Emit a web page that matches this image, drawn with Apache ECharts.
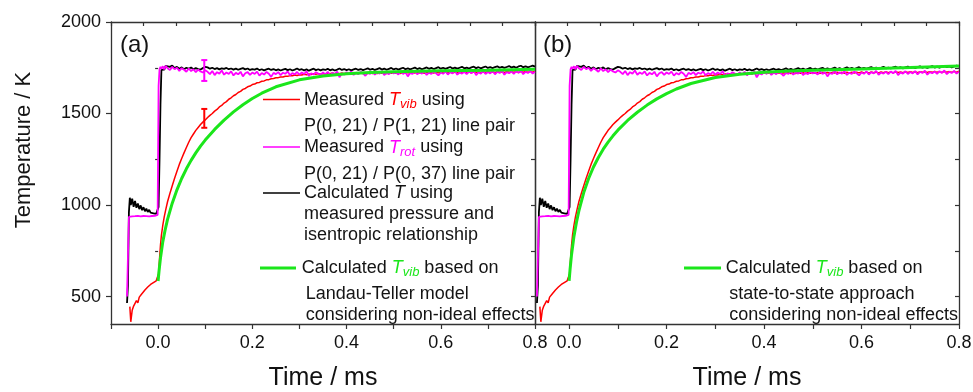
<!DOCTYPE html>
<html><head><meta charset="utf-8">
<script src="https://cdn.jsdelivr.net/npm/echarts@6/dist/echarts.min.js"></script>
<style>html,body{margin:0;padding:0;background:#fff}#c{width:973px;height:392px}</style>
</head><body><div id="c"></div>
<script>
// ---- data ----
const tMeas = [-0.066,-0.064,-0.062,-0.060,-0.058,-0.055,-0.052,-0.049,-0.046,-0.043,-0.040,-0.037,-0.034,-0.031,-0.028,-0.025,-0.022,-0.019,-0.016,-0.013,-0.010,-0.007,-0.004,-0.001,
0.001,0.003,0.005,0.007,0.010,0.013,0.016,0.020,0.025,0.030,0.035,0.040,0.045,0.050,0.055,0.060,0.065,0.070,0.075,0.080,0.085,0.090,0.095,0.100,
0.105,0.110,0.115,0.120,0.125,0.130,0.135,0.140,0.145,0.150,
0.155,0.160,0.165,0.170,0.175,0.180,0.185,0.190,0.195,0.200,
0.205,0.210,0.215,0.220,0.225,0.230,0.235,0.240,0.245,0.250,
0.255,0.260,0.265,0.270,0.275,0.280,0.285,0.290,0.295,0.300,
0.305,0.310,0.315,0.320,0.325,0.330,0.335,0.340,0.345,0.350,
0.355,0.360,0.365,0.370,0.375,0.380,0.385,0.390,0.395,0.400,
0.405,0.410,0.415,0.420,0.425,0.430,0.435,0.440,0.445,0.450,
0.455,0.460,0.465,0.470,0.475,0.480,0.485,0.490,0.495,0.500,
0.505,0.510,0.515,0.520,0.525,0.530,0.535,0.540,0.545,0.550,
0.555,0.560,0.565,0.570,0.575,0.580,0.585,0.590,0.595,0.600,
0.605,0.610,0.615,0.620,0.625,0.630,0.635,0.640,0.645,0.650,
0.655,0.660,0.665,0.670,0.675,0.680,0.685,0.690,0.695,0.700,
0.705,0.710,0.715,0.720,0.725,0.730,0.735,0.740,0.745,0.750,
0.755,0.760,0.765,0.770,0.775,0.780,0.785,0.790,0.795,0.800];

const tCalc = [465,560,960,1040,1000,1035,990,1022,985,1008,978,998,972,988,966,980,962,974,958,968,955,964,952,957,
990,1250,1550,1738,1745,1740,1760,1770,1755,1762,1748,1755,1745,1752,1742,1750,1744,1752,1741,1748,1743,1740,1748,1755,
1752,1745,1750,1743,1748,1741,1747,1744,1749,1742,
1746,1740,1745,1739,1744,1748,1741,1746,1738,1743,
1740,1746,1737,1742,1736,1741,1745,1738,1743,1736,
1741,1735,1740,1744,1737,1742,1735,1740,1746,1738,
1742,1736,1741,1734,1740,1745,1737,1742,1736,1741,
1738,1744,1736,1741,1735,1740,1746,1738,1743,1737,
1742,1736,1741,1745,1738,1743,1737,1742,1747,1739,
1744,1738,1743,1748,1740,1745,1739,1744,1749,1741,
1746,1740,1745,1750,1742,1747,1741,1746,1751,1743,
1748,1742,1747,1752,1744,1749,1743,1748,1753,1745,
1750,1744,1749,1754,1746,1751,1745,1750,1755,1747,
1751,1746,1752,1756,1748,1753,1747,1752,1757,1749,
1753,1748,1754,1758,1750,1755,1749,1754,1759,1751,
1756,1750,1757,1761,1753,1758,1752,1757,1762,1756];

const tRot = [500,720,935,940,942,938,936,939,937,941,935,938,936,940,937,939,941,938,942,940,943,941,944,946,
1650,1742,1755,1744,1758,1741,1760,1747,1738,1755,1742,1750,1733,1748,1739,1728,1746,1732,1742,1726,1740,1730,1724,1736,
1728,1715,1732,1710,1726,1718,1735,1712,1724,1716,
1730,1708,1722,1714,1728,1703,1720,1726,1711,1724,
1716,1729,1707,1721,1713,1727,1717,1700,1722,1715,
1726,1710,1723,1717,1730,1709,1721,1714,1727,1712,
1724,1716,1731,1705,1720,1713,1726,1718,1711,1725,
1714,1728,1709,1722,1716,1729,1698,1720,1713,1726,
1717,1730,1711,1724,1715,1728,1719,1706,1723,1716,
1729,1712,1725,1718,1731,1710,1722,1715,1727,1719,
1724,1713,1730,1716,1726,1703,1721,1717,1732,1714,
1725,1718,1731,1711,1723,1716,1729,1720,1708,1724,
1717,1730,1713,1726,1719,1733,1712,1724,1718,1728,
1715,1729,1720,1733,1710,1725,1718,1731,1716,1727,
1719,1732,1714,1728,1721,1734,1712,1726,1720,1730,
1717,1731,1722,1735,1715,1728,1721,1733,1718,1729];

const tVib = [null,null,null,445,362,425,448,438,478,466,497,488,517,509,536,528,552,546,566,559,576,571,586,592,
625,705,780,835,890,935,972,1018,1063,1105,1146,1184,1222,1254,1285,1314,1343,1368,1388,1408,1424,1440,1453,1465,
1478,1490,1500,1513,1522,1536,1544,1557,1565,1578,
1586,1597,1604,1615,1621,1632,1637,1646,1650,1658,
1661,1668,1670,1676,1678,1684,1685,1690,1691,1695,
1696,1700,1700,1704,1703,1707,1706,1710,1708,1712,
1710,1714,1712,1716,1713,1717,1714,1718,1715,1719,
1716,1720,1717,1721,1716,1722,1718,1721,1717,1722,
1718,1722,1717,1723,1719,1722,1718,1723,1719,1724,
1719,1723,1718,1724,1720,1723,1719,1724,1720,1725,
1720,1724,1719,1725,1721,1724,1720,1725,1721,1726,
1721,1725,1720,1726,1722,1725,1721,1726,1722,1727,
1722,1726,1721,1727,1723,1726,1722,1727,1723,1728,
1723,1727,1722,1728,1724,1727,1723,1728,1724,1729,
1724,1728,1723,1729,1725,1728,1724,1729,1725,1730,
1725,1729,1724,1730,1726,1729,1725,1730,1726,1731];

const tModel = [0,0.002,0.005,0.01,0.015,0.02,0.03,0.04,0.05,0.06,0.07,0.08,0.09,0.10,0.12,0.14,0.16,0.18,0.20,0.22,0.25,0.30,0.35,0.40,0.45,0.50,0.60,0.70,0.80];
const vibLandauTeller = [585,640,710,800,865,922,1010,1083,1145,1198,1244,1285,1322,1355,1413,1464,1509,1548,1582,1611,1646,1684,1705,1717,1724,1728,1733,1737,1742];
const vibStateToState = [585,650,730,830,905,968,1068,1145,1208,1260,1305,1344,1378,1409,1462,1507,1546,1580,1609,1634,1664,1697,1715,1726,1732,1736,1743,1751,1760];

const errRot = [0.098, 1678, 1792];
const errVib = [0.098, 1422, 1525];

const xTicks = [-0.1,0,0.1,0.2,0.3,0.4,0.5,0.6,0.7,0.8];
const xLabels = [0,0.2,0.4,0.6,0.8];
const yLabels = [500,1000,1500,2000];
const yMinor = [750,1250,1750];
const yAll = [500,750,1000,1250,1500,1750,2000];

// ---- chart ----
const FONT = '"Liberation Sans", Arial, Helvetica, sans-serif';
const AX = '#333';
const RED = '#ff0000', MAG = '#ff00ff', BLK = '#000000', GRN = '#1be61b';
const zip = (xs, ys) => xs.map((x, i) => [x, ys[i]]);

function xBottom(grid, min, ticks) {
  return {type:'value', gridIndex:grid, position:'bottom', min:min, max:0.8,
    axisLine:{show:true, onZero:false, lineStyle:{color:AX, width:1.3}},
    axisTick:{show:true, inside:false, length:5, customValues:ticks, lineStyle:{color:AX, width:1.2}},
    axisLabel:{show:true, customValues:xLabels, formatter:v=>Number(v).toFixed(1), fontSize:18, fontFamily:FONT, color:'#111', margin:10, showMinLabel:true, showMaxLabel:true},
    splitLine:{show:false},
    name:'Time / ms', nameLocation:'middle', nameGap:42, nameTextStyle:{fontSize:25, fontFamily:FONT, color:'#111'}};
}
function xTop(grid) {
  return {type:'value', gridIndex:grid, position:'top', min:0, max:13, interval:1,
    axisLine:{show:true, onZero:false, lineStyle:{color:AX, width:1.3}},
    axisTick:{show:true, inside:true, length:4, lineStyle:{color:AX, width:1.2}},
    axisLabel:{show:false}, splitLine:{show:false}};
}
function yAxisDef(grid, pos, opts) {
  return Object.assign({type:'value', gridIndex:grid, position:pos, min:350, max:2000,
    axisLine:{show:true, onZero:false, lineStyle:{color:AX, width:1.3}},
    axisTick:{show:false}, axisLabel:{show:false}, splitLine:{show:false}}, opts);
}

function lineSeries(xi, yi, data, color, width, z) {
  return {type:'line', xAxisIndex:xi, yAxisIndex:yi, data:data, showSymbol:false, symbol:'none',
    connectNulls:false, smooth:false, z:z, silent:true, animation:false, sampling:null,
    lineStyle:{color:color, width:width}, clip:true};
}
function errSeries(err, color) {
  return {type:'custom', xAxisIndex:0, yAxisIndex:0, z:10, silent:true, animation:false,
    data:[err], encode:{x:0, y:[1,2]},
    renderItem:(params, api) => {
      const x = api.value(0), lo = api.value(1), hi = api.value(2);
      const a = api.coord([x, lo]), b = api.coord([x, hi]);
      const st = {stroke:color, lineWidth:2};
      return {type:'group', children:[
        {type:'line', shape:{x1:a[0], y1:a[1], x2:b[0], y2:b[1]}, style:st},
        {type:'line', shape:{x1:a[0]-3, y1:a[1], x2:a[0]+3, y2:a[1]}, style:st},
        {type:'line', shape:{x1:b[0]-3, y1:b[1], x2:b[0]+3, y2:b[1]}, style:st}
      ]};
    }};
}

const TXT = '#141414';
function rich(c) {
  return {
    n:{fontSize:18, fontFamily:FONT, fill:TXT, lineHeight:22},
    t:{fontSize:18, fontFamily:FONT, fontStyle:'italic', fill:c, lineHeight:22},
    s:{fontSize:13, fontFamily:FONT, fontStyle:'italic', fill:c, lineHeight:12, verticalAlign:'bottom'}
  };
}
function txt(x, y, text, r, size) {
  const st = {x:x, y:y, text:text, fill:TXT, font:(size||18)+'px '+FONT, align:'left', verticalAlign:'middle'};
  if (r) st.rich = r;
  return {type:'text', silent:true, z:50, style:st};
}
function seg(x1, x2, y, color, w) {
  return {type:'line', silent:true, z:50, shape:{x1:x1, y1:y, x2:x2, y2:y}, style:{stroke:color, lineWidth:w}};
}

const option = {
  animation:false,
  backgroundColor:'#ffffff',
  grid:[
    {left:111, top:22, width:424, height:302, containLabel:false, outerBoundsMode:'none'},
    {left:535, top:22, width:424, height:302, containLabel:false, outerBoundsMode:'none'}
  ],
  xAxis:[ xBottom(0, -0.1, xTicks), xTop(0), xBottom(1, -0.07, xTicks.slice(1)), xTop(1) ],
  yAxis:[
    yAxisDef(0, 'left', {axisTick:{show:true, inside:false, length:5, customValues:yLabels, lineStyle:{color:AX, width:1.2}},
      axisLabel:{show:true, customValues:yLabels, formatter:v=>String(Math.round(v)), fontSize:18, fontFamily:FONT, color:'#111', margin:10}}),
    yAxisDef(0, 'left', {axisLine:{show:false}, axisTick:{show:true, inside:false, length:3, customValues:yMinor, lineStyle:{color:AX, width:1.2}}}),
    yAxisDef(0, 'right', {axisTick:{show:true, inside:true, length:4, customValues:yAll, lineStyle:{color:AX, width:1.2}}}),
    yAxisDef(1, 'left', {}),
    yAxisDef(1, 'right', {axisTick:{show:true, inside:true, length:4, customValues:yAll, lineStyle:{color:AX, width:1.2}}})
  ],
  series:[
    lineSeries(0, 0, zip(tMeas, tVib), RED, 1.5, 2),
    lineSeries(0, 0, zip(tMeas, tCalc), BLK, 1.8, 3),
    lineSeries(0, 0, zip(tMeas, tRot), MAG, 1.8, 4),
    lineSeries(0, 0, zip(tModel, vibLandauTeller), GRN, 3, 5),
    errSeries(errRot, MAG),
    errSeries(errVib, RED),
    lineSeries(2, 3, zip(tMeas, tVib), RED, 1.5, 2),
    lineSeries(2, 3, zip(tMeas, tCalc), BLK, 1.8, 3),
    lineSeries(2, 3, zip(tMeas, tRot), MAG, 1.8, 4),
    lineSeries(2, 3, zip(tModel, vibStateToState), GRN, 3, 5)
  ],
  graphic:[
    {type:'text', silent:true, rotation:Math.PI/2, x:24, y:150,
      style:{text:'Temperature / K', font:'22px '+FONT, fill:TXT, align:'center', verticalAlign:'middle'}},
    txt(120, 45, '(a)', null, 24),
    txt(543, 45, '(b)', null, 24),
    seg(263, 300, 99.5, RED, 1.5),
    txt(304, 100, '{n|Measured }{t|T}{s|vib}{n| using}', rich(RED)),
    txt(304, 126, 'P(0, 21) / P(1, 21) line pair'),
    seg(263, 300, 147, MAG, 1.5),
    txt(304, 147.5, '{n|Measured }{t|T}{s|rot}{n| using}', rich(MAG)),
    txt(304, 174, 'P(0, 21) / P(0, 37) line pair'),
    seg(263, 300, 193, BLK, 1.5),
    txt(304, 193, '{n|Calculated }{t|T}{n| using}', rich(TXT)),
    txt(304, 214, 'measured pressure and'),
    txt(304, 235, 'isentropic relationship'),
    seg(260, 296, 268, GRN, 3),
    txt(301.7, 268, '{n|Calculated }{t|T}{s|vib}{n| based on}', rich(GRN)),
    txt(305.7, 294, 'Landau-Teller model'),
    txt(305.7, 315, 'considering non-ideal effects'),
    seg(684, 721, 268, GRN, 3),
    txt(725.7, 268, '{n|Calculated }{t|T}{s|vib}{n| based on}', rich(GRN)),
    txt(729.3, 294, 'state-to-state approach'),
    txt(729.3, 315, 'considering non-ideal effects')
  ]
};
const chart = echarts.init(document.getElementById('c'), null, {renderer:'canvas'});
chart.setOption(option);
</script>
</body></html>
